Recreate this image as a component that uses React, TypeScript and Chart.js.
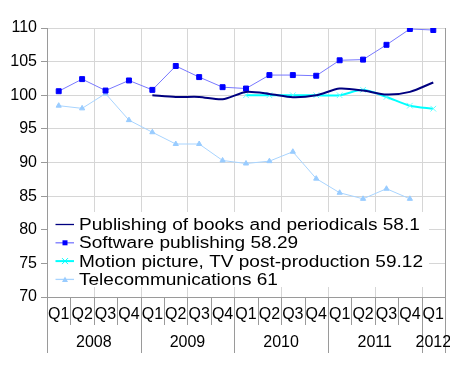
import React, { useEffect, useRef } from "react";
import { Chart, registerables } from "chart.js";

Chart.register(...registerables);

const quarters = ["Q1","Q2","Q3","Q4","Q1","Q2","Q3","Q4","Q1","Q2","Q3","Q4","Q1","Q2","Q3","Q4","Q1"];
const years = ["2008", "2009", "2010", "2011", "2012"];
const yTicks = [70, 75, 80, 85, 90, 95, 100, 105, 110];

const publishingBooks = [null, null, null, null, 100.0, 99.75, 99.75, 99.4, 100.5, 100.2, 99.7, 100.0, 101.0, 100.7, 100.1, 100.5, 101.9];
const softwarePublishing = [100.6, 102.4, 100.7, 102.2, 100.8, 104.35, 102.7, 101.2, 101.0, 103.0, 103.0, 102.9, 105.2, 105.3, 107.5, 109.85, 109.7];
const motionPicture = [null, null, null, null, null, null, null, null, 100.0, 100.0, 100.0, 100.0, 100.0, 100.8, 99.75, 98.45, 98.0];
const telecom = [98.45, 98.05, 100.25, 96.3, 94.5, 92.75, 92.75, 90.3, 89.85, 90.2, 91.6, 87.6, 85.5, 84.6, 86.1, 84.6, null];

const seriesLabels = [
  "Publishing of books and periodicals 58.1",
  "Software publishing 58.29",
  "Motion picture, TV post-production 59.12",
  "Telecommunications 61",
];

const FONT = '16px "Liberation Sans", Arial, sans-serif';
const AXIS = "#9a9a9a";
const GRID = "#d6d6d6";

function drawMarker(ctx: CanvasRenderingContext2D, style: string, x: number, y: number, color: string) {
  ctx.save();
  ctx.fillStyle = color;
  ctx.strokeStyle = color;
  ctx.lineWidth = 1;
  if (style === "rect") {
    ctx.fillRect(x - 2.5, y - 2.5, 5, 5);
  } else if (style === "triangle") {
    ctx.beginPath();
    ctx.moveTo(x, y - 3);
    ctx.lineTo(x + 3, y + 2.5);
    ctx.lineTo(x - 3, y + 2.5);
    ctx.closePath();
    ctx.fill();
  } else if (style === "crossRot") {
    ctx.beginPath();
    ctx.moveTo(x - 3, y - 3);
    ctx.lineTo(x + 3, y + 3);
    ctx.moveTo(x + 3, y - 3);
    ctx.lineTo(x - 3, y + 3);
    ctx.stroke();
  }
  ctx.restore();
}

const customPlugin = {
  id: "custom",
  beforeDatasetsDraw(chart: any) {
    const ctx = chart.ctx as CanvasRenderingContext2D;
    const xs = chart.scales.x;
    const { top, bottom } = chart.chartArea;
    const step = xs.getPixelForValue(1) - xs.getPixelForValue(0);
    const b = (i: number) => xs.getPixelForValue(0) - step / 2 + i * step;
    ctx.save();
    ctx.lineWidth = 1;
    for (let i = 2; i <= quarters.length; i += 2) {
      ctx.strokeStyle = i === quarters.length ? AXIS : GRID;
      const x = Math.round(b(i)) + 0.5;
      ctx.beginPath();
      ctx.moveTo(x, top);
      ctx.lineTo(x, bottom);
      ctx.stroke();
    }
    ctx.restore();
  },
  afterDraw(chart: any) {
    const ctx = chart.ctx as CanvasRenderingContext2D;
    const xs = chart.scales.x;
    const { top, bottom, left } = chart.chartArea;
    const step = xs.getPixelForValue(1) - xs.getPixelForValue(0);
    const b = (i: number) => xs.getPixelForValue(0) - step / 2 + i * step;
    ctx.save();
    ctx.lineWidth = 1;
    ctx.strokeStyle = AXIS;
    for (let i = 0; i <= quarters.length; i++) {
      const x = Math.round(b(i)) + 0.5;
      const isYear = i % 4 === 0 || i === quarters.length;
      ctx.beginPath();
      ctx.moveTo(x, i === 0 || i === quarters.length ? top : bottom);
      ctx.lineTo(x, isYear ? bottom + 56 : bottom + 28);
      ctx.stroke();
    }
    ctx.fillStyle = "#000";
    ctx.font = FONT;
    ctx.textAlign = "center";
    ctx.textBaseline = "middle";
    quarters.forEach((q, i) => {
      ctx.fillText(q, xs.getPixelForValue(i), bottom + 18);
    });
    years.forEach((yr, k) => {
      const first = k * 4;
      const last = Math.min(first + 3, quarters.length - 1);
      const cx = (xs.getPixelForValue(first) + xs.getPixelForValue(last)) / 2;
      ctx.fillText(yr, cx, bottom + 46);
    });
    // legend
    ctx.fillStyle = "#fff";
    ctx.fillRect(left + 1, 212, 381, 75);
    ctx.textAlign = "left";
    const styles = [null, "rect", "crossRot", "triangle"];
    chart.data.datasets.forEach((ds: any, i: number) => {
      const y = 224.5 + i * 18.3;
      ctx.strokeStyle = ds.borderColor;
      ctx.lineWidth = i === 2 ? 2 : 1.3;
      ctx.beginPath();
      ctx.moveTo(55.5, y);
      ctx.lineTo(74, y);
      ctx.stroke();
      if (styles[i]) drawMarker(ctx, styles[i] as string, 65, y, ds.pointBackgroundColor);
      ctx.save();
      ctx.translate(79, y + 1);
      ctx.scale(1.19, 1);
      ctx.fillStyle = "#000";
      ctx.font = FONT;
      ctx.fillText(ds.label, 0, 0);
      ctx.restore();
    });
    ctx.restore();
  },
};

export default function App() {
  const ref = useRef<HTMLCanvasElement>(null);
  useEffect(() => {
    if (!ref.current) return;
    const chart = new Chart(ref.current, {
      type: "line",
      data: {
        labels: quarters,
        datasets: [
          {
            label: seriesLabels[0],
            data: publishingBooks,
            borderColor: "#000080",
            pointBackgroundColor: "#000080",
            borderWidth: 2,
            pointRadius: 0,
            tension: 0.25,
          },
          {
            label: seriesLabels[1],
            data: softwarePublishing,
            borderColor: "#7878ff",
            pointBackgroundColor: "#0000ff",
            pointBorderColor: "#0000ff",
            pointStyle: "rect",
            pointRadius: 3.5,
            borderWidth: 1,
          },
          {
            label: seriesLabels[2],
            data: motionPicture,
            borderColor: "#00ffff",
            pointBackgroundColor: "#00ffff",
            pointBorderColor: "#66ffff",
            pointStyle: "crossRot",
            pointRadius: 4,
            pointBorderWidth: 1,
            borderWidth: 2,
            tension: 0.25,
          },
          {
            label: seriesLabels[3],
            data: telecom,
            borderColor: "#a8d4ff",
            pointBackgroundColor: "#99ccff",
            pointBorderColor: "#99ccff",
            pointStyle: "triangle",
            pointRadius: 3,
            borderWidth: 1,
          },
        ],
      },
      options: {
        animation: false,
        responsive: true,
        maintainAspectRatio: false,
        layout: { padding: { top: 28, right: 3, left: 0, bottom: 0 } },
        plugins: { legend: { display: false }, tooltip: { enabled: false } },
        scales: {
          x: {
            type: "category",
            offset: true,
            grid: { display: false },
            border: { display: true, color: AXIS },
            ticks: { display: false },
            afterFit: (s: any) => { s.height = 68; },
          },
          y: {
            min: 70,
            max: 110,
            afterBuildTicks: (s: any) => { s.ticks = yTicks.map((v) => ({ value: v })); },
            ticks: { color: "#000", font: { family: '"Liberation Sans", Arial, sans-serif', size: 16 }, padding: 4 },
            grid: { color: GRID, tickColor: AXIS, tickLength: 6 },
            border: { color: AXIS },
            afterFit: (s: any) => { s.width = 47; },
          },
        },
      },
      plugins: [customPlugin],
    });
    return () => chart.destroy();
  }, []);
  return (
    <div style={{ position: "absolute", left: 0, top: 0, width: 450, height: 365, background: "#fff" }}>
      <canvas ref={ref} />
    </div>
  );
}
